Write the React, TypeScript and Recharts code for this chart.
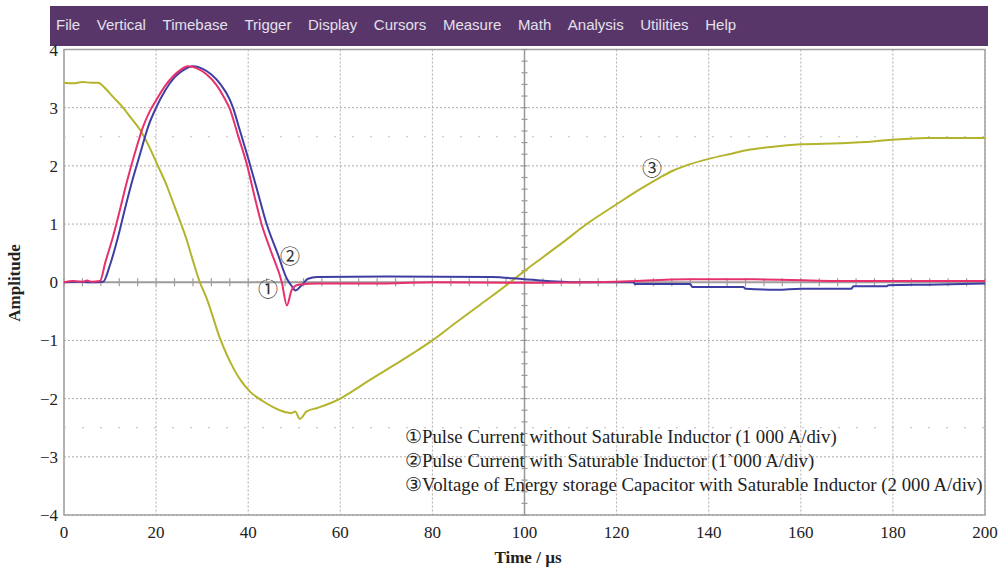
import { LineChart, Line, XAxis, YAxis, CartesianGrid, ReferenceLine, ReferenceArea, ReferenceDot } from "recharts";

const MENU = ["File", "Vertical", "Timebase", "Trigger", "Display", "Cursors", "Measure", "Math", "Analysis", "Utilities", "Help"];

const X_TICKS = [0, 20, 40, 60, 80, 100, 120, 140, 160, 180, 200];
const Y_TICKS = [-4, -3, -2, -1, 0, 1, 2, 3, 4];

// ① pulse current without saturable inductor
const noSatTime = [0, 2, 4, 5, 6, 7.8, 9, 10.7, 12, 13.6, 15.5, 17.2, 18.7, 20.1, 22, 23.7, 25.3, 26.9, 29, 31, 33, 35, 35.9, 37.8, 39.8, 41.3, 42.9, 45, 47.3, 48.4, 49.4, 50.3, 51.2, 55, 70, 80, 100, 120, 136, 150, 171, 200];
const noSatValue = [0, 0.02, 0.01, 0.03, 0.01, 0.02, 0.35, 0.8, 1.2, 1.71, 2.25, 2.68, 2.95, 3.14, 3.38, 3.54, 3.65, 3.71, 3.67, 3.57, 3.4, 3.14, 3.0, 2.52, 2.0, 1.5, 1.0, 0.52, 0.0, -0.4, -0.14, -0.06, -0.04, -0.02, -0.02, 0, -0.01, 0.01, 0.05, 0.05, 0.02, 0.02];

// ② pulse current with saturable inductor
const withSatTime = [0, 3, 6, 8.5, 10, 11.8, 13.2, 14.7, 16.5, 18.3, 20, 22, 24, 26, 28.1, 30, 32, 34, 36, 36.7, 38, 40, 42, 44, 46.4, 48.4, 49.4, 50.3, 51.6, 53, 55, 70, 93, 100, 112, 123.6, 124, 136, 136.4, 147.5, 148, 155, 160, 171, 171.4, 178.6, 179, 190, 200];
const withSatValue = [0, 0.01, 0, 0.01, 0.3, 0.8, 1.25, 1.71, 2.2, 2.68, 3.0, 3.3, 3.52, 3.65, 3.71, 3.67, 3.57, 3.4, 3.14, 3.0, 2.66, 2.13, 1.57, 1.0, 0.49, 0.06, -0.06, -0.14, -0.05, 0.06, 0.09, 0.1, 0.09, 0.05, 0, 0, -0.03, -0.03, -0.08, -0.08, -0.11, -0.13, -0.11, -0.11, -0.07, -0.07, -0.05, -0.04, -0.02];

// ③ capacitor voltage with saturable inductor
const capTime = [0, 2, 4, 6, 7.4, 9, 10.6, 12.5, 14.3, 16.9, 18.5, 20.1, 22, 23.7, 25.2, 26.6, 28, 29.5, 31, 33.9, 36.8, 38.5, 40.4, 43.3, 45.5, 47.6, 48.6, 49.4, 50.2, 51.2, 52.7, 55, 57.8, 60, 62.1, 66, 72.2, 76, 80, 85, 90.3, 96.9, 100.1, 104, 108.4, 113.5, 120, 125.1, 129.4, 132.3, 136, 140, 145, 149, 154, 160, 168.5, 175.7, 180, 187.3, 198.8, 200];
const capValue = [3.43, 3.42, 3.44, 3.43, 3.43, 3.33, 3.19, 3.03, 2.85, 2.57, 2.33, 2.05, 1.72, 1.37, 1.05, 0.74, 0.37, 0, -0.28, -0.97, -1.48, -1.7, -1.88, -2.05, -2.15, -2.22, -2.24, -2.25, -2.22, -2.35, -2.22, -2.16, -2.08, -2.0, -1.9, -1.7, -1.4, -1.21, -1.0, -0.7, -0.39, 0, 0.2, 0.43, 0.69, 1.0, 1.34, 1.6, 1.8, 1.92, 2.03, 2.12, 2.21, 2.28, 2.33, 2.37, 2.39, 2.42, 2.45, 2.48, 2.48, 2.48];

const LEGEND = [
  "①Pulse Current without Saturable Inductor (1 000 A/div)",
  "②Pulse Current with Saturable Inductor (1`000 A/div)",
  "③Voltage of Energy storage Capacitor with Saturable Inductor (2 000 A/div)",
];

const zip = (t: number[], v: number[]) => t.map((x, i) => ({ t: x, v: v[i] }));

const noSatData = zip(noSatTime, noSatValue);
const withSatData = zip(withSatTime, withSatValue);
const capData = zip(capTime, capValue);

// small tick marks on the centre cross-hair
const hTicks = Array.from({ length: 51 }, (_, i) => i * 4);
const vTicks = Array.from({ length: 41 }, (_, i) => -4 + i * 0.2);

const SERIF = "'Liberation Serif', 'Times New Roman', serif";
const CIRCLED = "'Liberation Serif', 'Noto Sans CJK SC', serif";

const fmtY = (v: number) => (v < 0 ? `−${Math.abs(v)}` : `${v}`);

const circled = (text: string) => ({
  value: text,
  position: "center" as const,
  fill: "#333",
  fontSize: 20,
  fontFamily: CIRCLED,
});

export default function App() {
  return (
    <div style={{ position: "absolute", left: 0, top: 0, width: 999, height: 570, background: "#fff", overflow: "hidden" }}>
      <div
        style={{
          position: "absolute",
          left: 50,
          top: 6,
          width: 938,
          height: 40,
          background: "#58366a",
          display: "flex",
          alignItems: "center",
          gap: 16.6,
          paddingLeft: 6,
          paddingBottom: 4,
          boxSizing: "border-box",
          fontFamily: "'Liberation Sans', Arial, sans-serif",
          fontSize: 15,
          color: "#e4e0ea",
        }}
      >
        {MENU.map((m) => (
          <span key={m}>{m}</span>
        ))}
      </div>

      <LineChart width={999} height={570} margin={{ top: 49.5, right: 14, bottom: 25, left: 8 }}>
        <CartesianGrid stroke="#b3aaaa" strokeDasharray="2 2" strokeWidth={1} />
        <XAxis
          type="number"
          dataKey="t"
          domain={[0, 200]}
          ticks={X_TICKS}
          height={30}
          axisLine={false}
          tickLine={false}
          tickSize={0}
          tickMargin={11}
          tick={{ fontSize: 17, fontFamily: SERIF, fill: "#222" }}
        />
        <YAxis
          type="number"
          domain={[-4, 4]}
          ticks={Y_TICKS}
          width={56}
          axisLine={false}
          tickLine={false}
          tickSize={0}
          tickMargin={6}
          tickFormatter={fmtY}
          tick={{ fontSize: 17, fontFamily: SERIF, fill: "#222" }}
        />
        <ReferenceLine y={2.5} stroke="#c4bcbc" strokeDasharray="2 16" />
        <ReferenceLine y={-2.5} stroke="#c4bcbc" strokeDasharray="2 16" />
        <ReferenceArea x1={0} x2={200} y1={-4} y2={4} fill="none" stroke="#a4a0a0" strokeWidth={1.5} />
        <ReferenceLine y={0} stroke="#a09c9c" strokeWidth={2} />
        <ReferenceLine x={100} stroke="#9a9696" strokeWidth={1.5} />
        {hTicks.map((t) => (
          <ReferenceLine key={`h${t}`} segment={[{ x: t, y: -0.07 }, { x: t, y: 0.07 }]} stroke="#a09c9c" strokeWidth={1.2} />
        ))}
        {vTicks.map((v) => (
          <ReferenceLine key={`v${v.toFixed(1)}`} segment={[{ x: 99.35, y: v }, { x: 100.65, y: v }]} stroke="#9a9696" strokeWidth={1.2} />
        ))}
        <Line data={capData} dataKey="v" type="monotone" stroke="#b4b42c" strokeWidth={2} dot={false} isAnimationActive={false} />
        <Line data={withSatData} dataKey="v" type="monotone" stroke="#3e3ea2" strokeWidth={2} dot={false} isAnimationActive={false} />
        <Line data={noSatData} dataKey="v" type="monotone" stroke="#e8306c" strokeWidth={2} dot={false} isAnimationActive={false} />
        <ReferenceDot x={44.3} y={-0.14} r={0} stroke="none" label={circled("①")} />
        <ReferenceDot x={49.1} y={0.44} r={0} stroke="none" label={circled("②")} />
        <ReferenceDot x={127.7} y={1.94} r={0} stroke="none" label={circled("③")} />
      </LineChart>

      <div style={{ position: "absolute", left: 405, top: 425, fontFamily: SERIF, fontSize: 18.8, lineHeight: "24px", color: "#222", whiteSpace: "nowrap" }}>
        {LEGEND.map((l) => (
          <div key={l}>{l}</div>
        ))}
      </div>

      <div
        style={{
          position: "absolute",
          left: 15,
          top: 283,
          transform: "translate(-50%, -50%) rotate(-90deg)",
          fontFamily: SERIF,
          fontWeight: "bold",
          fontSize: 17,
          color: "#222",
          whiteSpace: "nowrap",
        }}
      >
        Amplitude
      </div>
      <div
        style={{
          position: "absolute",
          left: 528,
          top: 558,
          transform: "translate(-50%, -50%)",
          fontFamily: SERIF,
          fontWeight: "bold",
          fontSize: 17,
          color: "#222",
          whiteSpace: "nowrap",
        }}
      >
        Time / µs
      </div>
    </div>
  );
}
